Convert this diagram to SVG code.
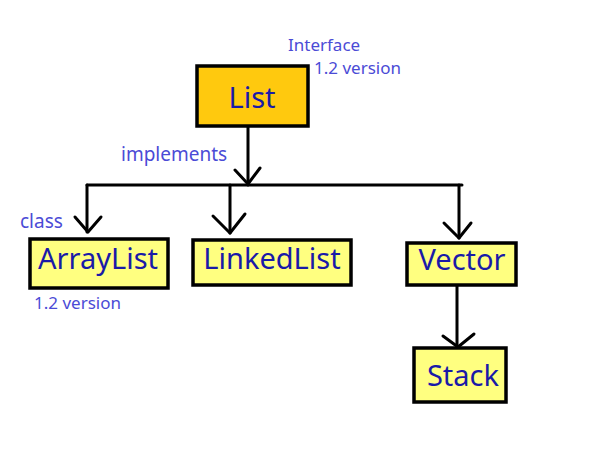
<svg xmlns="http://www.w3.org/2000/svg" width="610" height="462" viewBox="0 0 610 462">
<style>
.box{fill:#ffff80;stroke:#000;stroke-width:3.5}
.iface{fill:#ffc90e;stroke:#000;stroke-width:3.5}
.name{font-family:"Noto Sans","Open Sans",sans-serif;font-size:29px;fill:#1a1aa8;text-anchor:middle}
.lbl{font-family:"Noto Sans","Open Sans",sans-serif;font-size:17px;fill:#4b4bd6}
.ln{fill:none;stroke:#000;stroke-width:3;stroke-linecap:round;stroke-linejoin:round}
</style>
<rect width="610" height="462" fill="#fff"/>
<g id="connectors">
<path class="ln" d="M248,126 V185"/>
<path class="ln" d="M235,170 L248,184 L260,168"/>
<path class="ln" d="M87,185 H462"/>
<path class="ln" d="M87,185 V232"/>
<path class="ln" d="M75,217 L88,232 L101,217"/>
<path class="ln" d="M230,185 V233"/>
<path class="ln" d="M213,216 L230,233 L245,214"/>
<path class="ln" d="M459,185 V238"/>
<path class="ln" d="M444,223 L459,238 L471,223"/>
<path class="ln" d="M457,285 V346"/>
<path class="ln" d="M443,336 L458,347 L474,334"/>
</g>
<g id="List">
<rect class="iface" x="197" y="66" width="111" height="60"/>
<text class="name" x="252" y="108">List</text>
</g>
<g id="ArrayList">
<rect class="box" x="30" y="239" width="138" height="49"/>
<text class="name" x="98" y="269">ArrayList</text>
</g>
<g id="LinkedList">
<rect class="box" x="193" y="240" width="158" height="45"/>
<text class="name" x="272" y="269">LinkedList</text>
</g>
<g id="Vector">
<rect class="box" x="407" y="243" width="109" height="42"/>
<text class="name" x="462" y="270">Vector</text>
</g>
<g id="Stack">
<rect class="box" x="414" y="348" width="92" height="54"/>
<text class="name" x="463" y="386">Stack</text>
</g>
<g id="labels">
<text class="lbl" x="288" y="51">Interface</text>
<text class="lbl" x="314" y="74">1.2 version</text>
<text class="lbl" x="121" y="161" style="font-size:19px">implements</text>
<text class="lbl" x="20" y="228" style="font-size:19px">class</text>
<text class="lbl" x="34" y="309">1.2 version</text>
</g>
</svg>
